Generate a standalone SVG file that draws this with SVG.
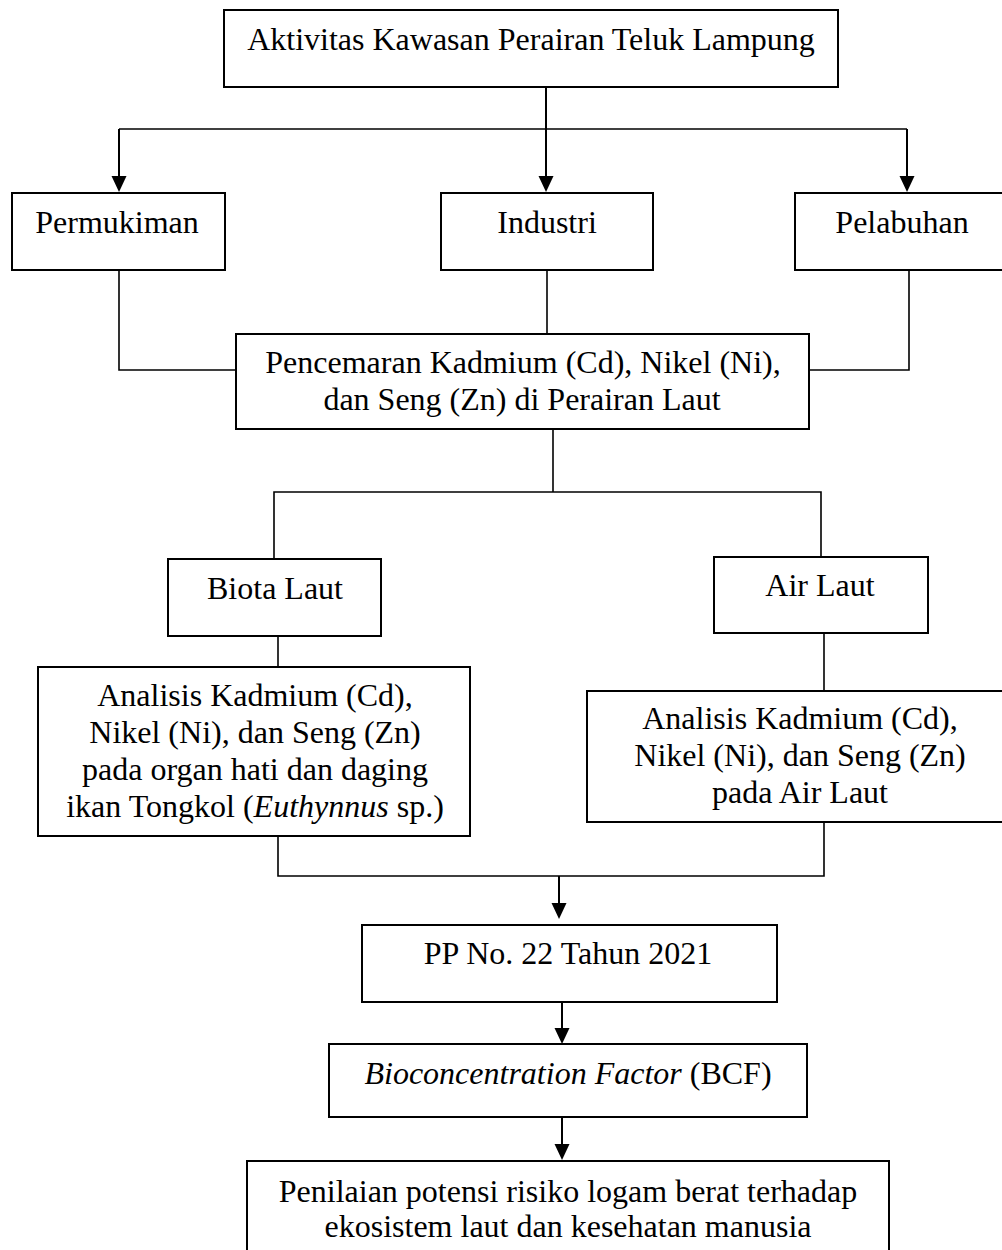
<svg xmlns="http://www.w3.org/2000/svg" width="1002" height="1250" viewBox="0 0 1002 1250">
<style>
.box{fill:#fff;stroke:#000;stroke-width:2}
.t{font-family:"Liberation Serif","Times New Roman",serif;font-size:32px;fill:#000;text-anchor:middle}
.c{fill:none;stroke:#000;stroke-width:1.6}
.a{fill:none;stroke:#000;stroke-width:2;marker-end:url(#arr)}
</style>
<defs>
<marker id="arr" markerUnits="userSpaceOnUse" markerWidth="16" markerHeight="16" refX="6" refY="7.5" orient="auto">
<path d="M0,0 L16,7.5 L0,15 z" fill="#000"/>
</marker>
</defs>
<rect width="1002" height="1250" fill="#fff"/>
<g id="connectors">
<path class="c" d="M119,129 H907"/>
<path class="a" d="M546,87 V182"/>
<path class="a" d="M119,129 V182"/>
<path class="a" d="M907,129 V182"/>
<path class="c" d="M119,270 V370 H236"/>
<path class="c" d="M547,270 V334"/>
<path class="c" d="M909,270 V370 H809"/>
<path class="c" d="M553,429 V492"/>
<path class="c" d="M274,559 V492 H821 V557"/>
<path class="c" d="M278,636 V667"/>
<path class="c" d="M824,633 V691"/>
<path class="c" d="M278,836 V876 H824 V822"/>
<path class="a" d="M559,876 V909"/>
<path class="a" d="M562,1002 V1034"/>
<path class="a" d="M562,1117 V1150"/>
</g>
<g id="n-aktivitas">
<rect class="box" x="224" y="10" width="614" height="77"/>
<text class="t" x="531" y="50">Aktivitas Kawasan Perairan Teluk Lampung</text>
</g>
<g id="n-permukiman">
<rect class="box" x="12" y="193" width="213" height="77"/>
<text class="t" x="117" y="233">Permukiman</text>
</g>
<g id="n-industri">
<rect class="box" x="441" y="193" width="212" height="77"/>
<text class="t" x="547" y="233">Industri</text>
</g>
<g id="n-pelabuhan">
<rect class="box" x="795" y="193" width="220" height="77"/>
<text class="t" x="902" y="233">Pelabuhan</text>
</g>
<g id="n-pencemaran">
<rect class="box" x="236" y="334" width="573" height="95"/>
<text class="t" x="523" y="373">Pencemaran Kadmium (Cd), Nikel (Ni),</text>
<text class="t" x="522" y="410">dan Seng (Zn) di Perairan Laut</text>
</g>
<g id="n-biota">
<rect class="box" x="168" y="559" width="213" height="77"/>
<text class="t" x="275" y="599">Biota Laut</text>
</g>
<g id="n-air">
<rect class="box" x="714" y="557" width="214" height="76"/>
<text class="t" x="820" y="596">Air Laut</text>
</g>
<g id="n-analisis-ikan">
<rect class="box" x="38" y="667" width="432" height="169"/>
<text class="t" x="255" y="706">Analisis Kadmium (Cd),</text>
<text class="t" x="255" y="743">Nikel (Ni), dan Seng (Zn)</text>
<text class="t" x="255" y="780">pada organ hati dan daging</text>
<text class="t" x="255" y="817">ikan Tongkol (<tspan font-style="italic">Euthynnus</tspan> sp.)</text>
</g>
<g id="n-analisis-air">
<rect class="box" x="587" y="691" width="430" height="131"/>
<text class="t" x="800" y="729">Analisis Kadmium (Cd),</text>
<text class="t" x="800" y="766">Nikel (Ni), dan Seng (Zn)</text>
<text class="t" x="800" y="803">pada Air Laut</text>
</g>
<g id="n-pp">
<rect class="box" x="362" y="925" width="415" height="77"/>
<text class="t" x="568" y="964">PP No. 22 Tahun 2021</text>
</g>
<g id="n-bcf">
<rect class="box" x="329" y="1044" width="478" height="73"/>
<text class="t" x="568" y="1084"><tspan font-style="italic">Bioconcentration Factor</tspan> (BCF)</text>
</g>
<g id="n-penilaian">
<rect class="box" x="247" y="1161" width="642" height="110"/>
<text class="t" x="568" y="1202">Penilaian potensi risiko logam berat terhadap</text>
<text class="t" x="568" y="1237">ekosistem laut dan kesehatan manusia</text>
</g>
</svg>
